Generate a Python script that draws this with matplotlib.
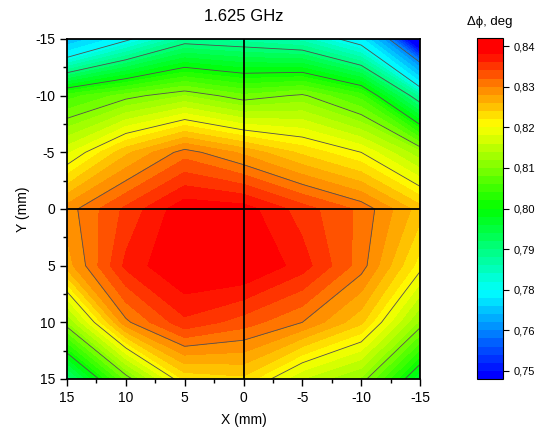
import matplotlib
matplotlib.use("Agg")
import matplotlib.pyplot as plt
import numpy as np
from matplotlib.colors import BoundaryNorm, LinearSegmentedColormap, ListedColormap
from matplotlib.ticker import FuncFormatter, MultipleLocator

plt.rcParams["font.family"] = ["Liberation Sans", "DejaVu Sans"]
plt.rcParams["axes.unicode_minus"] = False

# scan grid, mm
X_MM = [15, 10, 5, 0, -5, -10, -15]
Y_MM = [-15, -10, -5, 0, 5, 10, 15]

# phase difference, deg (one row per Y position)
ROW_Y_M15 = [0.768, 0.779, 0.788, 0.787, 0.785, 0.777, 0.741]
ROW_Y_M10 = [0.805, 0.809, 0.812, 0.8085, 0.8105, 0.805, 0.787]
ROW_Y_M5 = [0.8175, 0.8255, 0.831, 0.8275, 0.8235, 0.820, 0.8125]
ROW_Y_0 = [0.829, 0.8345, 0.8395, 0.839, 0.835, 0.8315, 0.825]
ROW_Y_5 = [0.827, 0.8365, 0.8405, 0.8405, 0.837, 0.831, 0.821]
ROW_Y_10 = [0.8118, 0.8295, 0.8355, 0.833, 0.830, 0.8245, 0.8115]
ROW_Y_15 = [0.790, 0.8085, 0.8225, 0.8235, 0.816, 0.8115, 0.796]

MAJOR_LEVELS = [0.75, 0.76, 0.78, 0.79, 0.80, 0.81, 0.82, 0.83, 0.84]
LINE_LEVELS = MAJOR_LEVELS[1:-1]
TITLE = "1.625 GHz"
CBAR_TITLE = "\u0394\u03d5, deg"

# fine bands: 5 per major step, plus one band past each end
fine = [0.738]
for a, b in zip(MAJOR_LEVELS[:-1], MAJOR_LEVELS[1:]):
    fine.extend(np.linspace(a, b, 6)[:-1])
fine.extend([0.84, 0.842])
n_bands = len(fine) - 1

rainbow = LinearSegmentedColormap.from_list(
    "origin_rainbow",
    [(0.0, "#0000ff"), (0.25, "#00ffff"), (0.5, "#00ff00"),
     (0.75, "#ffff00"), (0.87, "#ff8000"), (0.97, "#ff0000"), (1.0, "#ff0000")])
cmap = ListedColormap([rainbow(i / (n_bands - 1)) for i in range(n_bands)])
norm = BoundaryNorm(fine, n_bands)

Z = np.array([ROW_Y_M15, ROW_Y_M10, ROW_Y_M5, ROW_Y_0, ROW_Y_5, ROW_Y_10, ROW_Y_15])
XX, YY = np.meshgrid(X_MM, Y_MM)

fig = plt.figure(figsize=(5.41, 4.30), dpi=100)
ax = fig.add_axes([67 / 541, 51 / 430, 353 / 541, 340 / 430])
cax = fig.add_axes([477 / 541, 51 / 430, 26 / 541, 341 / 430])

cf = ax.contourf(XX, YY, Z, levels=fine, cmap=cmap, norm=norm)
ax.contour(XX, YY, Z, levels=LINE_LEVELS, colors="#505050", linewidths=0.6)
ax.axvline(0, color="black", lw=1.3)
ax.axhline(0, color="black", lw=1.3)

ax.set_xlim(15, -15)
ax.set_ylim(15, -15)
ax.xaxis.set_major_locator(MultipleLocator(5))
ax.xaxis.set_minor_locator(MultipleLocator(2.5))
ax.yaxis.set_major_locator(MultipleLocator(5))
ax.yaxis.set_minor_locator(MultipleLocator(2.5))
ax.tick_params(which="both", direction="out", labelsize=10, width=1)
ax.tick_params(which="major", length=5)
ax.tick_params(which="minor", length=3)
for sp in ax.spines.values():
    sp.set_linewidth(1.3)

ax.set_xlabel("X (mm)", fontsize=10, labelpad=6)
ax.set_ylabel("Y (mm)", fontsize=10, labelpad=4)
ax.set_title(TITLE, fontsize=12, pad=13)

cb = fig.colorbar(cf, cax=cax, ticks=MAJOR_LEVELS)
cb.ax.yaxis.set_major_formatter(FuncFormatter(lambda v, _: f"{v:.2f}".replace(".", ",")))
cb.ax.tick_params(labelsize=8, length=4, width=0.8, direction="out")
cb.ax.minorticks_off()
cb.outline.set_linewidth(0.8)
cb.outline.set_edgecolor("black")
cax.set_title(CBAR_TITLE, fontsize=9.5, pad=9)

fig.savefig("out.png", dpi=100)
